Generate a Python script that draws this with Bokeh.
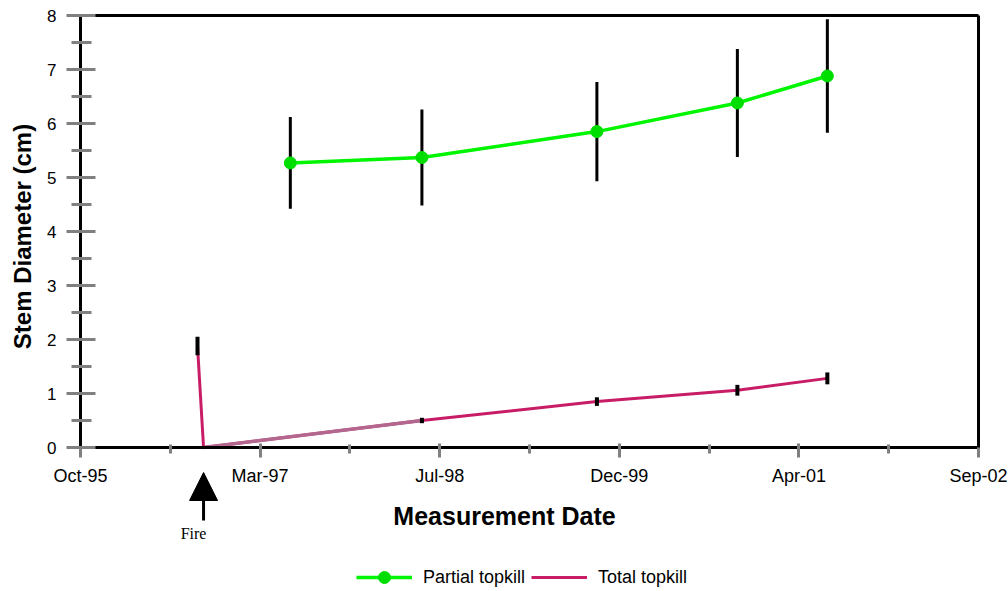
from datetime import datetime
from math import pi
from bokeh.plotting import figure
from bokeh.models import (FixedTicker, Legend, LegendItem, Arrow, NormalHead, Label, Range1d,
                          DatetimeAxis, LinearAxis)
from bokeh.embed import file_html
from bokeh.resources import INLINE

# ---------------- data ----------------
partial_dates = ["1997-05-27", "1998-06-01", "1999-10-06", "2000-11-04", "2001-07-15"]
partial_mean = [5.27, 5.37, 5.85, 6.38, 6.88]
partial_err = [0.85, 0.89, 0.92, 1.00, 1.05]

total_dates = ["1996-09-08", "1996-09-25", "1998-06-01", "1999-10-06", "2000-11-04", "2001-07-15"]
total_mean = [1.88, 0.0, 0.50, 0.85, 1.06, 1.28]
total_err = [0.17, 0.0, 0.05, 0.08, 0.10, 0.11]

fire_date = "1996-09-25"

x_tick_dates = ["1995-10-15", "1997-03-03", "1998-07-21", "1999-12-08", "2001-04-26", "2002-09-13"]
x_tick_labels = ["Oct-95", "Mar-97", "Jul-98", "Dec-99", "Apr-01", "Sep-02"]
y_ticks = [0, 1, 2, 3, 4, 5, 6, 7, 8]
y_minor_ticks = [0.5, 1.5, 2.5, 3.5, 4.5, 5.5, 6.5, 7.5]

x_title = "Measurement Date"
y_title = "Stem Diameter (cm)"
fire_text = "Fire"


def ms(s):
    return (datetime.fromisoformat(s) - datetime(1970, 1, 1)).total_seconds() * 1000.0


px = [ms(d) for d in partial_dates]
tx = [ms(d) for d in total_dates]
xt = [ms(d) for d in x_tick_dates]
x_minor = [(a + b) / 2 for a, b in zip(xt[:-1], xt[1:])]
fire_x = ms(fire_date)

GREEN = "#00f500"
GREEN_M = "#00dd00"
CRIMSON = "#c81c66"
MAUVE = "#b3668e"
TICK = "#808080"
FONT = "Liberation Sans"

# ---------------- layout (pixels) ----------------
W, H = 1008, 591
PLOT_TOP, PLOT_LEFT, PLOT_RIGHT, ZERO_Y = 15, 80, 978, 447
py_per_unit = (ZERO_Y - PLOT_TOP) / y_ticks[-1]
ms_per_px = (xt[-1] - xt[0]) / (PLOT_RIGHT - PLOT_LEFT)


def sx(pix):   # pixel column -> x data value
    return xt[0] + (pix - PLOT_LEFT) * ms_per_px


def sy(pix):   # pixel row -> y data value
    return (ZERO_Y - pix) / py_per_unit


# frame covers the whole canvas; axes are placed at fixed locations
p = figure(width=W, height=H, x_axis_type=None, y_axis_type=None,
           x_range=Range1d(sx(0), sx(W)), y_range=Range1d(sy(H), sy(0)),
           output_backend="svg", toolbar_location=None,
           min_border_left=0, min_border_right=0, min_border_top=0, min_border_bottom=0)
p.grid.visible = False
p.outline_line_color = None
p.background_fill_color = "white"
p.border_fill_color = "white"

# x axis at y = 0
xa = DatetimeAxis(fixed_location=y_ticks[0], bounds=(xt[0], xt[-1]))
xa.ticker = FixedTicker(ticks=xt, minor_ticks=x_minor)
xa.major_label_overrides = {t: l for t, l in zip(xt, x_tick_labels)}
xa.axis_line_color = "black"
xa.axis_line_width = 3
xa.major_tick_line_color = TICK
xa.major_tick_line_width = 3
xa.major_tick_in = 4
xa.major_tick_out = 10
xa.minor_tick_line_color = TICK
xa.minor_tick_line_width = 3
xa.minor_tick_in = 3
xa.minor_tick_out = 6
xa.major_label_standoff = 8
xa.major_label_text_font = FONT
xa.major_label_text_font_size = "18px"
xa.major_label_text_color = "black"
p.add_layout(xa, "below")

# y axis at the first date
ya = LinearAxis(fixed_location=xt[0], bounds=(y_ticks[0], y_ticks[-1]))
ya.ticker = FixedTicker(ticks=y_ticks, minor_ticks=y_minor_ticks)
ya.axis_line_color = "black"
ya.axis_line_width = 3
ya.major_tick_line_color = TICK
ya.major_tick_line_width = 3
ya.major_tick_in = 15
ya.major_tick_out = 14
ya.minor_tick_line_color = TICK
ya.minor_tick_line_width = 3
ya.minor_tick_in = 11
ya.minor_tick_out = 9
ya.major_label_standoff = 10
ya.major_label_text_font = FONT
ya.major_label_text_font_size = "17px"
ya.major_label_text_color = "black"
p.add_layout(ya, "left")

# box: top and right borders
top_ax = LinearAxis(fixed_location=y_ticks[-1], bounds=(xt[0], xt[-1]),
                    ticker=FixedTicker(ticks=[]), axis_line_color="black", axis_line_width=3,
                    major_tick_line_color=None, minor_tick_line_color=None)
p.add_layout(top_ax, "above")
right_ax = LinearAxis(fixed_location=xt[-1], bounds=(y_ticks[0], y_ticks[-1]),
                      ticker=FixedTicker(ticks=[]), axis_line_color="black", axis_line_width=3,
                      major_tick_line_color=None, minor_tick_line_color=None)
p.add_layout(right_ax, "right")

# axis titles
p.add_layout(Label(x=sx(504), y=sy(515), text=x_title, text_align="center",
                   text_baseline="alphabetic", text_font=FONT, text_font_style="bold",
                   text_font_size="25px", text_color="black"))
p.add_layout(Label(x=sx(22), y=sy(236), text=y_title, text_align="center", angle=pi / 2,
                   text_baseline="alphabetic", text_font=FONT, text_font_style="bold",
                   text_font_size="24px", text_color="black"))

# partial topkill: error bars, line, markers
p.segment(x0=px, y0=[m - e for m, e in zip(partial_mean, partial_err)],
          x1=px, y1=[m + e for m, e in zip(partial_mean, partial_err)],
          line_color="black", line_width=3)
g_line = p.line(px, partial_mean, line_color=GREEN, line_width=3.5)
g_mark = p.scatter(px, partial_mean, marker="circle", size=12,
                   fill_color=GREEN_M, line_color=GREEN_M)

# total topkill
t_line = p.line(tx, total_mean, line_color=CRIMSON, line_width=3)
p.line(tx[1:3], total_mean[1:3], line_color=MAUVE, line_width=3.5)
p.segment(x0=tx, y0=[m - e for m, e in zip(total_mean, total_err)],
          x1=tx, y1=[m + e for m, e in zip(total_mean, total_err)],
          line_color="black", line_width=4)

# fire arrow + label
p.add_layout(Arrow(end=NormalHead(size=28, fill_color="black", line_color="black"),
                   x_start=fire_x, y_start=sy(520), x_end=fire_x, y_end=sy(472),
                   line_color="black", line_width=3))
p.add_layout(Label(x=fire_x, y=sy(533), x_offset=-10, text=fire_text, text_align="center",
                   text_baseline="alphabetic", text_font="Liberation Serif",
                   text_font_size="16px", text_color="black"))

legend = Legend(items=[LegendItem(label="Partial topkill", renderers=[g_line, g_mark]),
                       LegendItem(label="Total topkill", renderers=[t_line])],
                orientation="horizontal", location=(356, -1),
                glyph_width=56, glyph_height=30, label_height=18, label_standoff=11,
                spacing=6, padding=0, margin=0,
                border_line_color=None, background_fill_alpha=0,
                label_text_font=FONT, label_text_font_size="18px", label_text_color="black")
p.add_layout(legend)

open("out.html", "w").write(file_html(p, INLINE))
